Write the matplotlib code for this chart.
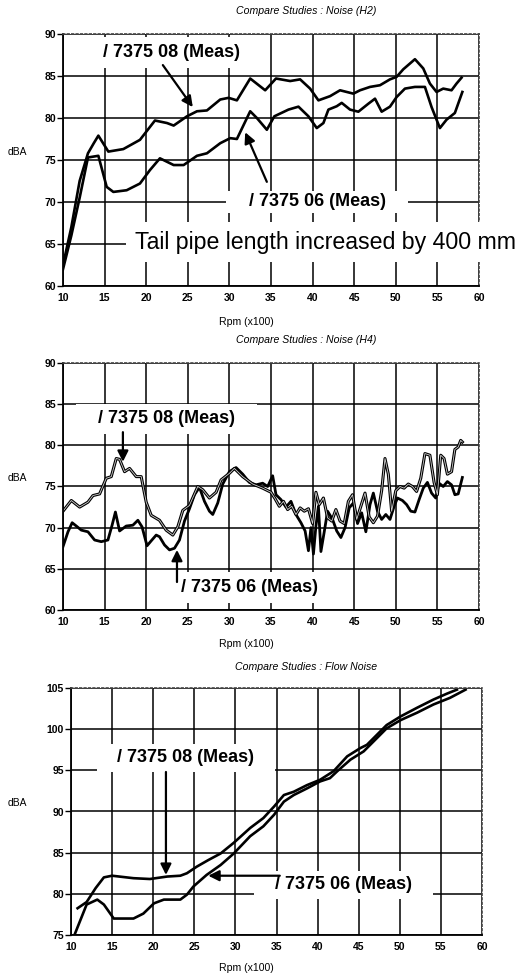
"""
Compare studies: tail pipe noise, three panels (H2, H4, flow noise)
"""

import numpy as np
import matplotlib.pyplot as plt


# ---- data ----

#Noise (H2)
h2_rpm_08 = [10, 11, 12, 13, 13.7, 14.25, 15.45, 17.25, 19.25, 21.05, 22.5, 23.3, 24.9, 26.1, 27.3,
             28.9, 29.9, 30.9, 32.5, 34.3, 35.6, 37.3, 38.5, 39.7, 40.7, 42.1, 43.3, 44.9, 45.7,
             46.9, 48.1, 49.3, 50.1, 50.9, 52.3, 53.3, 54.1, 54.9, 55.7, 56.7, 57.3, 57.9]
h2_db_08 = [62.5, 67, 72.5, 75.8, 77, 77.9, 76, 76.3, 77.4, 79.7, 79.4, 79.1, 80.2, 80.8, 80.9,
            82.2, 82.4, 82.1, 84.7, 83.3, 84.7, 84.4, 84.6, 83.5, 82.1, 82.6, 83.3, 82.9, 83.3,
            83.7, 83.9, 84.6, 84.9, 85.8, 87, 85.9, 84.1, 83.1, 83.5, 83.3, 84.1, 84.8]

h2_rpm_06 = [10, 11, 12, 13, 14.25, 15.25, 16.05, 17.65, 19.25, 20.45, 21.65, 23.3, 24.5, 26.1,
             27.3, 28.9, 30.1, 30.9, 32.5, 33.3, 34.5, 35.4, 37.1, 38.3, 39.5, 40.5, 41.3, 41.9,
             42.9, 43.5, 44.5, 45.5, 46.7, 47.5, 48.3, 49.3, 50.1, 51.1, 52.3, 53.5, 54.3, 55.3,
             56.1, 57.1, 58.0]
h2_db_06 = [62, 66, 70.5, 75.3, 75.5, 71.8, 71.2, 71.4, 72.2, 73.8, 75.2, 74.4, 74.4, 75.5,
            75.8, 77, 77.6, 77.5, 80.8, 80, 78.6, 80.2, 81, 81.35, 80.2, 78.8, 79.4, 81,
            81.4, 81.8, 81, 80.75, 81.7, 82.3, 80.75, 81.35, 82.5, 83.5, 83.7, 83.7, 81.3, 78.8,
            79.8, 80.6, 83.1]

#Noise (H4)
h4_rpm_08 = [10, 11, 12, 13, 13.6, 14.4, 15.2, 15.8, 16.4, 16.8, 17.4, 18, 18.8, 19.4, 20, 20.6,
             21.6, 22.4, 23.2, 23.8, 24.4, 25.2, 26.2, 26.8, 27.6, 28.4, 29, 30, 30.6, 31.6, 32.8,
             34, 35, 35.5, 36, 36.5, 37, 37.5, 38, 38.5, 39, 39.5, 40, 40.4, 40.8, 41.3, 41.8,
             42.3, 42.8, 43.3, 43.8, 44.3, 44.8, 45.3, 45.8, 46.3, 46.8, 47.3, 47.8, 48.3, 48.7,
             49.1, 49.5, 50, 50.5, 51, 51.5, 52, 52.5, 53, 53.5, 54.1, 54.6, 55, 55.4, 55.8,
             56.2, 56.7, 57.1, 57.5, 57.8, 58]
h4_db_08 = [72.0, 73.3, 72.5, 73.1, 73.9, 74.1, 76.0, 76.2, 78.4, 78.3, 76.8, 77.2, 76.2, 76.2,
            73.1, 71.5, 70.9, 69.7, 69.1, 70.1, 72.1, 72.7, 75.0, 74.6, 73.6, 74.3, 75.8, 76.6,
            77.2, 76.2, 75.3, 74.8, 74.3, 73.5, 72.6, 73.2, 72.2, 72.6, 71.6, 72.4, 72.0, 72.3,
            70.5, 74.3, 72.8, 73.6, 71.2, 70.8, 72.2, 70.8, 70.5, 73.2, 74.0, 71.0, 72.6, 74.2,
            71.3, 70.6, 71.4, 74.5, 78.4, 76.5, 72.0, 74.5, 75.0, 74.8, 75.3, 75.0, 74.4, 76.0,
            79.0, 78.8, 75.5, 74.0, 78.8, 78.4, 76.5, 76.8, 79.5, 79.8, 80.6, 80.4]

h4_rpm_06 = [10, 10.6, 11.1, 11.6, 12.2, 13, 13.8, 14.6, 15.4, 15.9, 16.3, 16.8, 17.6, 18.4, 19,
             19.5, 20.1, 20.6, 21.2, 21.6, 22.2, 22.8, 23.4, 24, 24.6, 25.2, 25.8, 26.4, 27,
             27.6, 28.0, 28.6, 29.2, 30, 30.8, 31.6, 32.4, 33.2, 34, 34.6, 35.2, 35.6, 36.2,
             36.8, 37.4, 38, 38.6, 39.1, 39.5, 39.8, 40.1, 40.4, 40.7, 41.0, 41.4, 41.8, 42.4,
             42.9, 43.4, 43.9, 44.4, 44.9, 45.4, 45.9, 46.4, 46.9, 47.3, 47.8, 48.3, 48.8, 49.3,
             49.8, 50.2, 50.8, 51.3, 51.8, 52.3, 52.8, 53.3, 53.8, 54.3, 54.8, 55.2, 55.7, 56.2,
             56.7, 57.1, 57.5, 58]
h4_db_06 = [67.7, 69.5, 70.6, 70.2, 69.7, 69.5, 68.5, 68.3, 68.5, 70.3, 71.9, 69.6, 70.2, 70.3,
            70.9, 70.1, 67.8, 68.4, 69.1, 68.9, 67.9, 67.3, 67.5, 68.5, 70.8, 72.3, 74.0, 74.9,
            73.2, 72.0, 71.6, 73.0, 75.3, 76.8, 77.3, 76.5, 75.5, 75.2, 75.4, 75.0, 76.3, 74.0,
            73.4, 72.5, 73.2, 71.6, 70.6, 69.6, 67.2, 70.0, 66.8, 70.2, 72.6, 67.1, 69.5, 72.0,
            71.0, 69.6, 68.8, 70.0, 72.4, 73.0, 70.5, 71.8, 69.5, 72.8, 74.2, 72.0, 71.0, 71.6,
            71.0, 72.6, 73.6, 73.3, 72.8, 72.0, 71.9, 73.4, 74.8, 75.5, 74.2, 73.6, 75.4, 75.0,
            75.6, 75.2, 74.0, 74.1, 76.1]

#Flow noise
flow_rpm_08 = [10.8, 11.9, 13, 14, 15, 17.6, 19.6, 21.7, 23.3, 24.1, 25.3, 26.7, 28.2, 29.8, 31.8,
               33.4, 34.7, 35.9, 37.1, 38.7, 40.3, 41.95, 43.6, 45.2, 46, 47.2, 48.4, 50.1, 52.1,
               54.1, 55.7, 56.95]
flow_db_08 = [78.25, 79, 80.7, 82, 82.2, 81.9, 81.8, 82.1, 82.2, 82.5, 83.3, 84.1, 84.9, 86.2, 88,
              89.2, 90.6, 92, 92.4, 93.2, 93.85, 94.9, 96.7, 97.7, 98.1, 99.3, 100.5, 101.55,
              102.6, 103.6, 104.3, 104.8]

flow_rpm_06 = [10.5, 11.9, 13.2, 14, 15.2, 17.6, 18.8, 20.1, 21.3, 23.3, 24.1, 24.9, 26.5, 28.2,
               29.8, 31.8, 33.4, 34.7, 35.9, 37.1, 38.7, 40.3, 41.5, 42.4, 44, 45.6, 46.8, 48.4,
               50.1, 52.1, 54.1, 56.1, 58]
flow_db_06 = [75.2, 78.7, 79.3, 78.7, 77, 77, 77.6, 78.85, 79.3, 79.3, 79.9, 80.9, 82.3, 83.5,
              84.9, 87, 88.2, 89.6, 91.2, 92, 92.8, 93.65, 94.05, 94.9, 96.3, 97.3, 98.5, 100.1,
              101.1, 102, 103, 103.8, 104.8]

panel_titles = ['Compare Studies : Noise (H2)', 'Compare Studies : Noise (H4)',
                'Compare Studies : Flow Noise']
x_ticks = [10, 15, 20, 25, 30, 35, 40, 45, 50, 55, 60]
y_ticks_noise = [60, 65, 70, 75, 80, 85, 90]
y_ticks_flow = [75, 80, 85, 90, 95, 100, 105]

label_08 = '/ 7375 08 (Meas)'
label_06 = '/ 7375 06 (Meas)'
note = 'Tail pipe length increased by 400 mm'

plotpath = ''

W, H = 523, 976

plt.rcParams['font.family'] = ['Liberation Sans', 'DejaVu Sans']


def fx(px):
	return px / W

def fy(py):
	return 1 - py / H

def setup_axes(fig, box, yticks):
	"""
	box is (left, top, right, bottom) in pixels
	"""
	l, t, r, b = box
	ax = fig.add_axes([fx(l), fy(b), (r - l) / W, (b - t) / H])
	ax.set_xlim(x_ticks[0], x_ticks[-1])
	ax.set_ylim(yticks[0], yticks[-1])
	ax.set_xticks(x_ticks)
	ax.set_yticks(yticks)
	ax.tick_params(axis='y', length=4, width=1, pad=1, labelsize=7.5)
	ax.tick_params(axis='x', length=0, pad=5, labelsize=7.5)
	for lab in ax.get_xticklabels() + ax.get_yticklabels():
		lab.set_fontweight('bold')
	ax.grid(True, color='black', lw=1.1)
	ax.set_axisbelow(True)
	for side in ['left', 'bottom']:
		ax.spines[side].set_linewidth(1.3)
	for side in ['top', 'right']:
		ax.spines[side].set_linestyle(':')
		ax.spines[side].set_linewidth(1.2)
		ax.spines[side].set_color('#444444')
	return ax

def label(ax, x, y, txt, pad=3):
	#white box hides the grid behind the series label
	ax.text(x, y, txt, fontsize=13, fontweight='bold', ha='left', va='center', zorder=3,
		bbox=dict(facecolor='white', edgecolor='none', pad=pad))

def arrow(ax, tail, head):
	ax.annotate('', xy=head, xytext=tail, zorder=4,
		arrowprops=dict(arrowstyle='-|>', color='black', lw=1.6, mutation_scale=16,
			shrinkA=0, shrinkB=0))

def main():
	fig = plt.figure(figsize=(W / 100, H / 100), dpi=100)

	#panel titles, axis labels
	for txt, ty in zip(panel_titles, [11, 340, 667]):
		fig.text(fx(306), fy(ty), txt, fontsize=7.6, style='italic', ha='center', va='center')
	for ty in [322, 644, 968]:
		fig.text(fx(246), fy(ty), 'Rpm (x100)', fontsize=7.6, ha='center', va='center')
	for ty in [152, 478, 803]:
		fig.text(fx(17), fy(ty), 'dBA', fontsize=7.4, ha='center', va='center')

	#Noise (H2)
	ax = setup_axes(fig, (63, 34, 479, 286), y_ticks_noise)
	ax.plot(h2_rpm_08, h2_db_08, color='black', lw=1.9, zorder=2)
	ax.plot(h2_rpm_06, h2_db_06, color='black', lw=1.9, zorder=2)
	label(ax, 13.6, 87.8, '  ' + label_08 + '  ', pad=5)
	label(ax, 29.9, 70.0, '    ' + label_06 + '    ', pad=2)
	ax.text(18.6, 65.2, note, fontsize=16.7, ha='left', va='center', zorder=3,
		bbox=dict(facecolor='white', edgecolor='none', pad=6))
	arrow(ax, (22.0, 86.3), (25.6, 81.3))
	arrow(ax, (34.5, 72.4), (31.9, 78.3))

	#Noise (H4)
	ax = setup_axes(fig, (63, 363, 479, 610), y_ticks_noise)
	ax.plot(h4_rpm_06, h4_db_06, color='black', lw=2.0, zorder=2)
	ax.plot(h4_rpm_08, h4_db_08, color='black', lw=2.2, zorder=2)
	ax.plot(h4_rpm_08, h4_db_08, color='#d0d0d0', lw=0.6, zorder=2)
	label(ax, 12.4, 83.2, '   ' + label_08 + '   ', pad=5)
	label(ax, 22.4, 62.7, '   ' + label_06 + '   ', pad=5)
	arrow(ax, (17.2, 81.6), (17.2, 78.0))
	arrow(ax, (23.7, 63.4), (23.7, 67.3))

	#Flow noise
	ax = setup_axes(fig, (71, 688, 482, 935), y_ticks_flow)
	ax.plot(flow_rpm_08, flow_db_08, color='black', lw=1.9, zorder=2)
	ax.plot(flow_rpm_06, flow_db_06, color='black', lw=1.9, zorder=2)
	label(ax, 13.8, 96.5, '   ' + label_08 + '   ', pad=4)
	label(ax, 33.0, 81.1, '   ' + label_06 + '   ', pad=4)
	arrow(ax, (21.55, 94.8), (21.55, 82.3))
	arrow(ax, (35.4, 82.2), (26.7, 82.2))

	fig.savefig(f'{plotpath}out.png', dpi=100)
	plt.close()


if __name__ == '__main__':
	main()
